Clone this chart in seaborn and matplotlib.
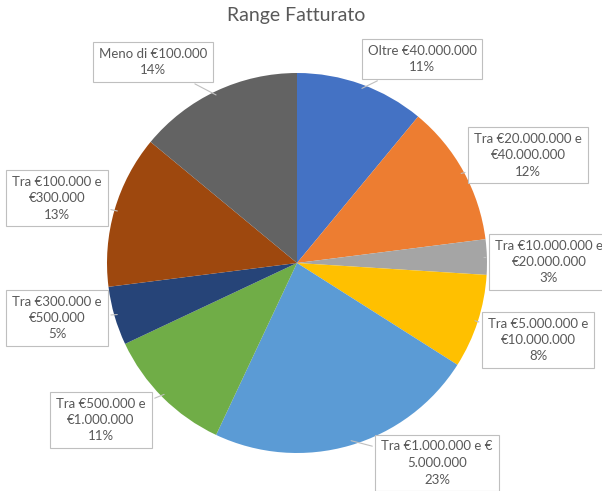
import numpy as np
import matplotlib
matplotlib.use("Agg")
import matplotlib.pyplot as plt
import seaborn as sns

# Revenue ranges and their share of companies (percent)
categories = [
    "Oltre €40.000.000",
    "Tra €20.000.000 e\n€40.000.000",
    "Tra €10.000.000 e\n€20.000.000",
    "Tra €5.000.000 e\n€10.000.000",
    "Tra €1.000.000 e €\n5.000.000",
    "Tra €500.000 e\n€1.000.000",
    "Tra €300.000 e\n€500.000",
    "Tra €100.000 e\n€300.000",
    "Meno di €100.000",
]
shares = [11, 12, 3, 8, 23, 11, 5, 13, 14]
colors = ["#4472C4", "#ED7D31", "#A5A5A5", "#FFC000", "#5B9BD5",
          "#70AD47", "#264478", "#9E480E", "#636363"]

# Callout label positions (figure pixel coordinates, y up)
label_xy = [(422, 432), (528, 336), (549, 229), (538, 151), (437, 28),
            (101, 71), (57, 173), (57, 293), (153, 429)]

sns.set_theme(style="white")
plt.rcParams["font.family"] = ["Lato", "DejaVu Sans"]

fig = plt.figure(figsize=(6.02, 4.91), dpi=100)
ax = fig.add_axes([0, 0, 1, 1])
palette = sns.color_palette(colors)

center = (297, 228)
radius = 190
wedges, _ = ax.pie(shares, colors=palette, startangle=90, counterclock=False,
                   center=center, radius=radius, frame=True,
                   wedgeprops=dict(linewidth=0))

for w, cat, val, (lx, ly) in zip(wedges, categories, shares, label_xy):
    ang = np.deg2rad((w.theta1 + w.theta2) / 2)
    px = center[0] + 0.97 * radius * np.cos(ang)
    py = center[1] + 0.97 * radius * np.sin(ang)
    ax.annotate(f"{cat}\n{val}%", xy=(px, py), xytext=(lx, ly),
                ha="center", va="center", fontsize=9.5, color="#595959",
                linespacing=1.45,
                bbox=dict(boxstyle="square,pad=0.45", fc="white",
                          ec="#BFBFBF", lw=0.8),
                arrowprops=dict(arrowstyle="-", color="#BFBFBF", lw=0.8))

ax.set_xlim(0, 602)
ax.set_ylim(0, 491)
ax.set_aspect("equal")
ax.axis("off")

fig.text(0.492, 1 - 15 / 491, "Range Fatturato", ha="center", va="center",
         fontsize=14, color="#595959")

fig.savefig("out.png", dpi=100)
